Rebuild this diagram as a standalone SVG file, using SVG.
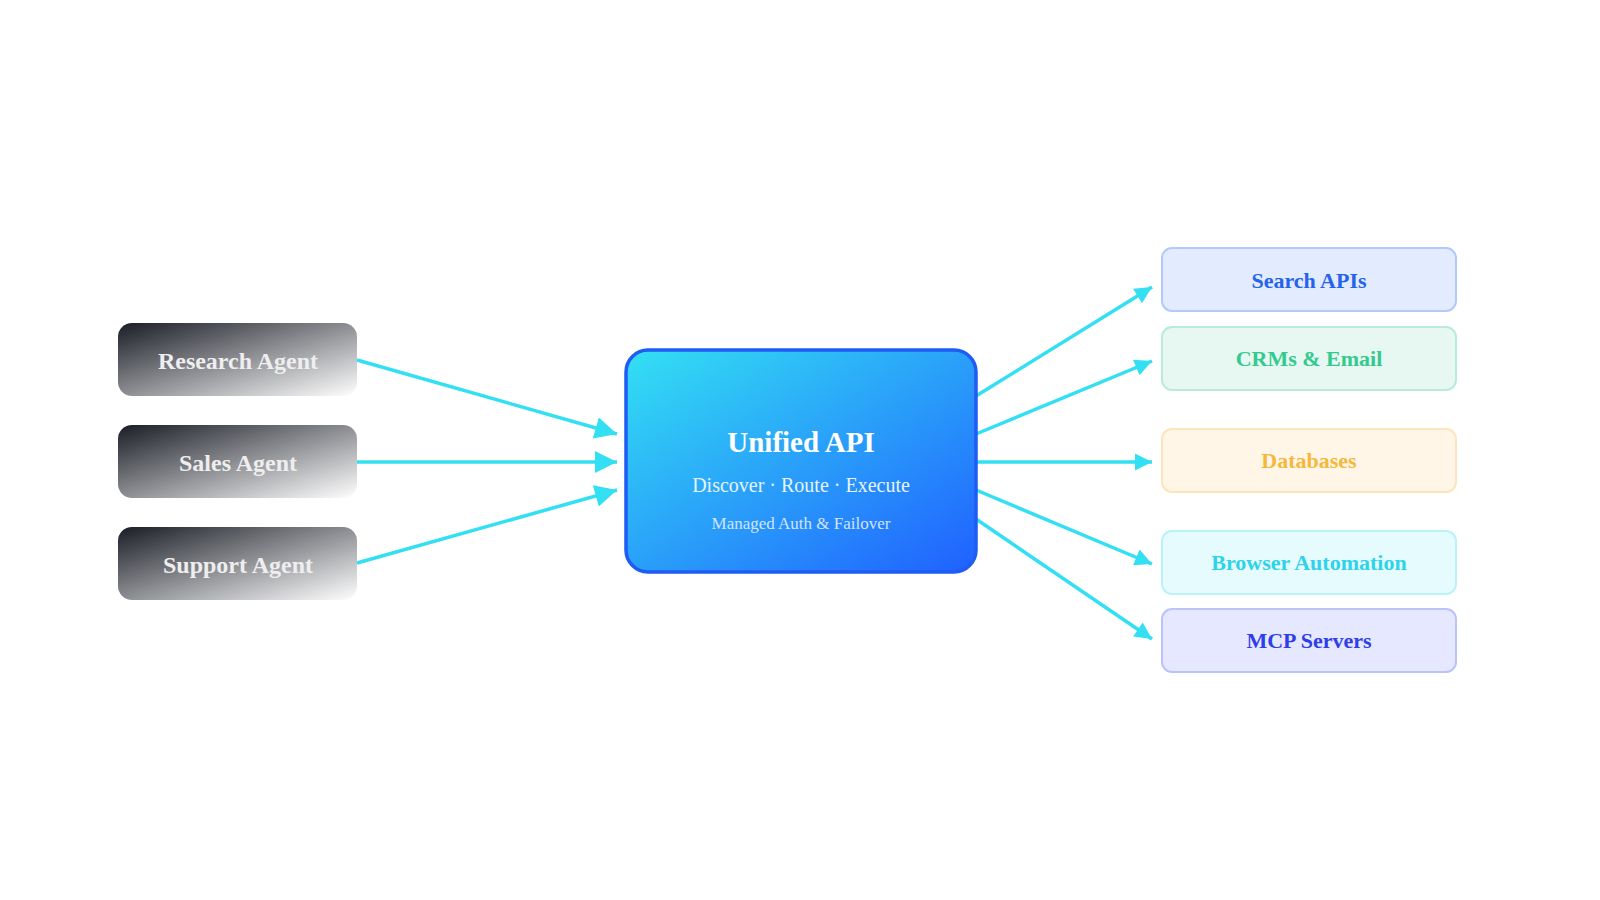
<svg xmlns="http://www.w3.org/2000/svg" width="1600" height="900" viewBox="0 0 1600 900">
<style>
text{font-family:"Liberation Serif","Times New Roman",serif;text-anchor:middle;dominant-baseline:central}
.agent rect{fill:url(#gA)}
.agent text{fill:#eeeeee;font-weight:bold;font-size:24px}
.svc text{font-weight:bold;font-size:22px}
.conn line{stroke:#33dff2;stroke-width:3.5}
.in{marker-end:url(#ahL)}
.out{marker-end:url(#ahR)}
</style>
<defs>
<linearGradient id="gA" x1="0" y1="0" x2="1" y2="1"><stop offset="0" stop-color="#1a1d26"/><stop offset="1" stop-color="#ffffff"/></linearGradient>
<linearGradient id="gC" x1="0" y1="0" x2="1" y2="1"><stop offset="0" stop-color="#33e0f3"/><stop offset="1" stop-color="#2060ff"/></linearGradient>
<marker id="ahL" viewBox="0 0 10 10" refX="10" refY="5" markerWidth="32" markerHeight="22" markerUnits="userSpaceOnUse" orient="auto"><path d="M0,0L10,5L0,10z" fill="#33dff2"/></marker>
<marker id="ahR" viewBox="0 0 10 10" refX="10" refY="5" markerWidth="24" markerHeight="17" markerUnits="userSpaceOnUse" orient="auto"><path d="M0,0L10,5L0,10z" fill="#33dff2"/></marker>
</defs>
<rect width="1600" height="900" fill="#fff"/>
<g class="conn">
<line class="in" x1="357" y1="360" x2="617" y2="434"/>
<line class="in" x1="357" y1="462" x2="617" y2="462"/>
<line class="in" x1="357" y1="563" x2="617" y2="490"/>
<line class="out" x1="976" y1="396" x2="1152" y2="287"/>
<line class="out" x1="976" y1="434" x2="1152" y2="361"/>
<line class="out" x1="976" y1="462" x2="1152" y2="462"/>
<line class="out" x1="976" y1="490" x2="1152" y2="564"/>
<line class="out" x1="976" y1="519" x2="1152" y2="639"/>
</g>
<g id="research" class="agent"><rect x="118" y="323" width="239" height="73" rx="14"/><text x="238" y="361">Research Agent</text></g>
<g id="sales" class="agent"><rect x="118" y="425" width="239" height="73" rx="14"/><text x="238" y="463">Sales Agent</text></g>
<g id="support" class="agent"><rect x="118" y="527" width="239" height="73" rx="14"/><text x="238" y="565">Support Agent</text></g>
<g id="unified"><rect x="626" y="350" width="350" height="222" rx="22" fill="url(#gC)" stroke="#1e5cf5" stroke-width="3.5"/>
<text x="801" y="442" fill="#fff" font-weight="bold" font-size="29">Unified API</text>
<text x="801" y="485" fill="#e6f3ff" font-size="20">Discover · Route · Execute</text>
<text x="801" y="523" fill="#d0e4ff" font-size="17">Managed Auth &amp; Failover</text></g>
<g id="search" class="svc"><rect x="1162" y="248" width="294" height="63" rx="10" fill="#e3ebfe" stroke="#b3c9fb" stroke-width="2"/><text x="1309" y="280" fill="#2563eb">Search APIs</text></g>
<g id="crm" class="svc"><rect x="1162" y="327" width="294" height="63" rx="10" fill="#e6f8f1" stroke="#b7ecd7" stroke-width="2"/><text x="1309" y="358" fill="#34c98e">CRMs &amp; Email</text></g>
<g id="db" class="svc"><rect x="1162" y="429" width="294" height="63" rx="10" fill="#fff6e8" stroke="#fde4bd" stroke-width="2"/><text x="1309" y="460" fill="#f5b83d">Databases</text></g>
<g id="browser" class="svc"><rect x="1162" y="531" width="294" height="63" rx="10" fill="#e6fbfe" stroke="#b9f2f9" stroke-width="2"/><text x="1309" y="562" fill="#2ed3ea">Browser Automation</text></g>
<g id="mcp" class="svc"><rect x="1162" y="609" width="294" height="63" rx="10" fill="#e5e8fe" stroke="#bac3fa" stroke-width="2"/><text x="1309" y="640" fill="#2f3ee8">MCP Servers</text></g>
</svg>
